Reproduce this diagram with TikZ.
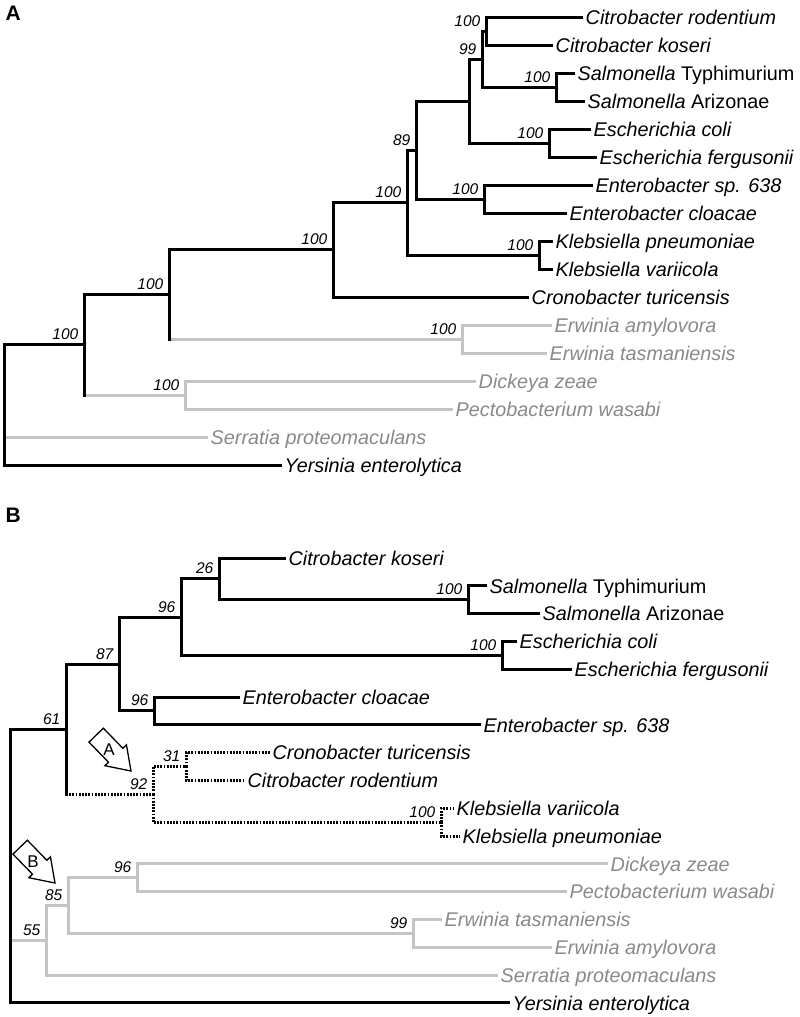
\documentclass[tikz,border=0pt]{standalone}
\usepackage{fontspec}
\setmainfont{Liberation Sans}
\definecolor{lgrey}{HTML}{C4C4C4}
\definecolor{tgrey}{HTML}{898989}
\tikzset{
  br/.style={line width=3pt, draw=black, line join=miter},
  brv/.style={br, line cap=rect},
  gbr/.style={line width=3pt, draw=lgrey, line join=miter},
  dbr/.style={line width=3pt, draw=black, dash pattern=on 1.8pt off 1.4pt},
  leaf/.style={anchor=base west, inner sep=0pt, xshift=2.5pt, yshift=-7.2pt, font=\fontsize{19.8}{22}\selectfont\itshape},
  gleaf/.style={leaf, text=tgrey},
  sup/.style={anchor=base east, inner sep=0pt, xshift=-5.5pt, yshift=5pt, font=\fontsize{15.5}{17}\selectfont\itshape},
  panel/.style={anchor=north west, inner sep=0pt, font=\fontsize{21}{24}\selectfont\bfseries},
  arrowline/.style={draw=black, fill=white, line width=1.3pt, line join=miter},
  arrowtext/.style={inner sep=0pt, font=\fontsize{17}{19}\selectfont},
  pics/blockarrow/.style={code={
    \draw[arrowline] (0,0) -- (-26.09,-5.31) -- (-22.5,-8.8) -- (-42.02,-28.88)
      -- (-27.68,-42.82) -- (-8.16,-22.74) -- (-4.57,-26.23) -- cycle;
    \node[arrowtext] at (-22,-21) {#1};
  }}
}
\begin{document}
\begin{tikzpicture}[x=1pt,y=-1pt]
\useasboundingbox (0,0) rectangle (800,1017);

% ================= Panel A =================
\node[panel] (panA) at (5.5,6) {A};

% leaf tips
\coordinate (a1) at (583,17);
\coordinate (a2) at (553,45);
\coordinate (a3) at (575,73);
\coordinate (a4) at (585,101);
\coordinate (a5) at (591,129);
\coordinate (a6) at (597,157);
\coordinate (a7) at (593,185);
\coordinate (a8) at (567,213);
\coordinate (a9) at (553,241);
\coordinate (a10) at (553,269);
\coordinate (a11) at (529,297);
\coordinate (a12) at (552,325);
\coordinate (a13) at (547,353);
\coordinate (a14) at (476,381);
\coordinate (a15) at (453,409);
\coordinate (a16) at (208,437);
\coordinate (a17) at (282,465);
% internal nodes
\coordinate (aCR) at (486,31);
\coordinate (aSal) at (556,87);
\coordinate (a99) at (482,59);
\coordinate (aEsc) at (549,143);
\coordinate (aX) at (469,101);
\coordinate (aEnt) at (484,199);
\coordinate (a89) at (416,150);
\coordinate (aKl) at (539,255);
\coordinate (aY) at (407,202.5);
\coordinate (aZ) at (333,249.8);
\coordinate (aErw) at (462,339);
\coordinate (aW) at (169,294.4);
\coordinate (aDi) at (185,395);
\coordinate (aV) at (84,344.7);
\coordinate (aR) at (4,344.7);

% grey branches
\draw[gbr] (aW |- aErw) -- (aErw);
\draw[gbr] (aErw) |- (a12);
\draw[gbr] (aErw) |- (a13);
\draw[gbr] (aV |- aDi) -- (aDi);
\draw[gbr] (aDi) |- (a14);
\draw[gbr] (aDi) |- (a15);
\draw[gbr] (aR |- a16) -- (a16);
% black branches
\draw[br] (aCR) |- (a1);
\draw[br] (aCR) |- (a2);
\draw[br] (aSal) |- (a3);
\draw[br] (aSal) |- (a4);
\draw[br] (a99) |- (aCR);
\draw[br] (a99) |- (aSal);
\draw[br] (aEsc) |- (a5);
\draw[br] (aEsc) |- (a6);
\draw[br] (aX) |- (a99);
\draw[br] (aX) |- (aEsc);
\draw[br] (aEnt) |- (a7);
\draw[br] (aEnt) |- (a8);
\draw[br] (a89) |- (aX);
\draw[br] (a89) |- (aEnt);
\draw[br] (aKl) |- (a9);
\draw[br] (aKl) |- (a10);
\draw[br] (aY) |- (a89);
\draw[br] (aY) |- (aKl);
\draw[br] (aZ) |- (aY);
\draw[br] (aZ) |- (a11);
\draw[br] (aW) |- (aZ);
\draw[brv] (aW) -- (aW |- aErw);
\draw[br] (aV) |- (aW);
\draw[brv] (aV) -- (aV |- aDi);
\draw[br] (aV) -- (aR) -- (aR |- a17) -- (a17);

% leaf labels
\node[leaf] (lA1) at (a1) {Citrobacter rodentium};
\node[leaf] (lA2) at (a2) {Citrobacter koseri};
\node[leaf] (lA3) at (a3) {Salmonella \upshape Typhimurium};
\node[leaf] (lA4) at (a4) {Salmonella \upshape Arizonae};
\node[leaf] (lA5) at (a5) {Escherichia coli};
\node[leaf] (lA6) at (a6) {Escherichia fergusonii};
\node[leaf] (lA7) at (a7) {Enterobacter sp. 638};
\node[leaf] (lA8) at (a8) {Enterobacter cloacae};
\node[leaf] (lA9) at (a9) {Klebsiella pneumoniae};
\node[leaf] (lA10) at (a10) {Klebsiella variicola};
\node[leaf] (lA11) at (a11) {Cronobacter turicensis};
\node[gleaf] (lA12) at (a12) {Erwinia amylovora};
\node[gleaf] (lA13) at (a13) {Erwinia tasmaniensis};
\node[gleaf] (lA14) at (a14) {Dickeya zeae};
\node[gleaf] (lA15) at (a15) {Pectobacterium wasabi};
\node[gleaf] (lA16) at (a16) {Serratia proteomaculans};
\node[leaf] (lA17) at (a17) {Yersinia enterolytica};

% support values
\node[sup] (sA1) at (aCR) {100};
\node[sup] (sA2) at (a99) {99};
\node[sup] (sA3) at (aSal) {100};
\node[sup] (sA4) at (aEsc) {100};
\node[sup] (sA5) at (a89) {89};
\node[sup] (sA6) at (aEnt) {100};
\node[sup] (sA7) at (aY) {100};
\node[sup] (sA8) at (aKl) {100};
\node[sup] (sA9) at (aZ) {100};
\node[sup] (sA10) at (aW) {100};
\node[sup] (sA11) at (aErw) {100};
\node[sup] (sA12) at (aV) {100};
\node[sup] (sA13) at (aDi) {100};

% ================= Panel B =================
\node[panel] (panB) at (5.5,508) {B};

\coordinate (b1) at (286,558);
\coordinate (b2) at (487,585.8);
\coordinate (b3) at (540,613.6);
\coordinate (b4) at (517,641.4);
\coordinate (b5) at (572,669.2);
\coordinate (b6) at (240,697);
\coordinate (b7) at (481,724.8);
\coordinate (b8) at (270,752.6);
\coordinate (b9) at (245,780.4);
\coordinate (b10) at (454,808.2);
\coordinate (b11) at (460,836);
\coordinate (b12) at (608,863.8);
\coordinate (b13) at (567,891.6);
\coordinate (b14) at (442,919.4);
\coordinate (b15) at (552,947.2);
\coordinate (b16) at (498,975);
\coordinate (b17) at (510,1002.8);

\coordinate (bSal) at (468,599.7);
\coordinate (b26) at (219,578.85);
\coordinate (bEsc) at (502,655.3);
\coordinate (b96a) at (181,617.1);
\coordinate (bEnt) at (154,710.9);
\coordinate (b87) at (119,664);
\coordinate (b31) at (186,766.5);
\coordinate (bKl) at (441,822.1);
\coordinate (b92) at (153,794.3);
\coordinate (b61) at (66,729.15);
\coordinate (bDi) at (137,877.7);
\coordinate (bErw) at (413,933.3);
\coordinate (b85) at (68,905.5);
\coordinate (b55) at (46,940.25);
\coordinate (bR) at (10,729.15);

% grey
\draw[gbr] (bR |- b55) -- (b55);
\draw[gbr] (b55) |- (b85);
\draw[gbr] (b55) |- (b16);
\draw[gbr] (b85) |- (bDi);
\draw[gbr] (b85) |- (bErw);
\draw[gbr] (bDi) |- (b12);
\draw[gbr] (bDi) |- (b13);
\draw[gbr] (bErw) |- (b14);
\draw[gbr] (bErw) |- (b15);
% dotted
\draw[dbr] (b61 |- b92) -- (b92);
\draw[dbr] (b92) |- (b31);
\draw[dbr] (b92) |- (bKl);
\draw[dbr] (b31) |- (b8);
\draw[dbr] (b31) |- (b9);
\draw[dbr] (bKl) |- (b10);
\draw[dbr] (bKl) |- (b11);
% black
\draw[br] (bSal) |- (b2);
\draw[br] (bSal) |- (b3);
\draw[br] (b26) |- (b1);
\draw[br] (b26) |- (bSal);
\draw[br] (bEsc) |- (b4);
\draw[br] (bEsc) |- (b5);
\draw[br] (b96a) |- (b26);
\draw[br] (b96a) |- (bEsc);
\draw[br] (bEnt) |- (b6);
\draw[br] (bEnt) |- (b7);
\draw[br] (b87) |- (b96a);
\draw[br] (b87) |- (bEnt);
\draw[br] (b61) |- (b87);
\draw[brv] (b61) -- (b61 |- b92);
\draw[br] (b61) -- (bR) -- (bR |- b17) -- (b17);

% leaf labels
\node[leaf] (lB1) at (b1) {Citrobacter koseri};
\node[leaf] (lB2) at (b2) {Salmonella \upshape Typhimurium};
\node[leaf] (lB3) at (b3) {Salmonella \upshape Arizonae};
\node[leaf] (lB4) at (b4) {Escherichia coli};
\node[leaf] (lB5) at (b5) {Escherichia fergusonii};
\node[leaf] (lB6) at (b6) {Enterobacter cloacae};
\node[leaf] (lB7) at (b7) {Enterobacter sp. 638};
\node[leaf] (lB8) at (b8) {Cronobacter turicensis};
\node[leaf] (lB9) at (b9) {Citrobacter rodentium};
\node[leaf] (lB10) at (b10) {Klebsiella variicola};
\node[leaf] (lB11) at (b11) {Klebsiella pneumoniae};
\node[gleaf] (lB12) at (b12) {Dickeya zeae};
\node[gleaf] (lB13) at (b13) {Pectobacterium wasabi};
\node[gleaf] (lB14) at (b14) {Erwinia tasmaniensis};
\node[gleaf] (lB15) at (b15) {Erwinia amylovora};
\node[gleaf] (lB16) at (b16) {Serratia proteomaculans};
\node[leaf] (lB17) at (b17) {Yersinia enterolytica};

% support values
\node[sup] (sB1) at (b26) {26};
\node[sup] (sB2) at (bSal) {100};
\node[sup] (sB3) at (b96a) {96};
\node[sup] (sB4) at (bEsc) {100};
\node[sup] (sB5) at (b87) {87};
\node[sup] (sB6) at (bEnt) {96};
\node[sup] (sB7) at (b61) {61};
\node[sup] (sB8) at (b92) {92};
\node[sup] (sB9) at (b31) {31};
\node[sup] (sB10) at (bKl) {100};
\node[sup] (sB11) at (bDi) {96};
\node[sup] (sB12) at (b85) {85};
\node[sup] (sB13) at (b55) {55};
\node[sup] (sB14) at (bErw) {99};

% block arrows
\coordinate (tipA) at (131,771);
\coordinate (tipB) at (55,883);
\pic at (tipA) {blockarrow=A};
\pic at (tipB) {blockarrow=B};
\end{tikzpicture}
\end{document}
